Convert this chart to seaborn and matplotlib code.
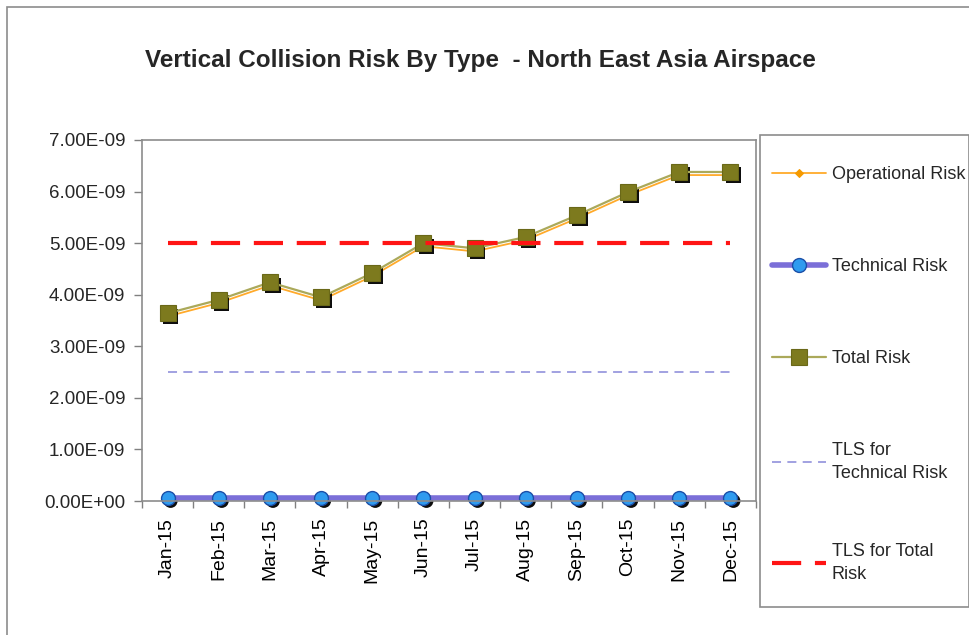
import numpy as np
import pandas as pd
import matplotlib
matplotlib.use("Agg")
import matplotlib.pyplot as plt
import matplotlib.patheffects as pe
from matplotlib.patches import Rectangle
from matplotlib.ticker import FuncFormatter, FixedLocator
import seaborn as sns

# data
months = ['Jan-15', 'Feb-15', 'Mar-15', 'Apr-15', 'May-15', 'Jun-15',
          'Jul-15', 'Aug-15', 'Sep-15', 'Oct-15', 'Nov-15', 'Dec-15']
operational_risk = [3.58e-9, 3.84e-9, 4.18e-9, 3.89e-9, 4.36e-9, 4.94e-9,
                    4.84e-9, 5.06e-9, 5.48e-9, 5.93e-9, 6.32e-9, 6.32e-9]
technical_risk = [0.06e-9, 0.06e-9, 0.06e-9, 0.06e-9, 0.06e-9, 0.06e-9,
                  0.06e-9, 0.06e-9, 0.06e-9, 0.06e-9, 0.06e-9, 0.06e-9]
total_risk = [3.64e-9, 3.90e-9, 4.24e-9, 3.95e-9, 4.42e-9, 5.00e-9,
              4.90e-9, 5.12e-9, 5.54e-9, 5.99e-9, 6.38e-9, 6.38e-9]
tls_technical = [2.5e-9] * 12
tls_total = [5.0e-9] * 12

df = pd.DataFrame({'month': months, 'operational': operational_risk,
                   'technical': technical_risk, 'total': total_risk,
                   'tls_tech': tls_technical, 'tls_total': tls_total})

sns.set_style("white")
plt.rcParams['font.family'] = ['Liberation Sans', 'DejaVu Sans']

fig = plt.figure(figsize=(9.69, 6.35), dpi=100)
ax = fig.add_axes([142/969, 1 - 501/635, 614/969, 361/635])

# excel style drop shadow under the markers (only the shadow is drawn here)
shadow = [pe.SimplePatchShadow(offset=(2.2, -2.2), shadow_rgbFace='black', alpha=0.95)]

# operational risk
sns.lineplot(data=df, x='month', y='operational', sort=False, ax=ax, color='#FFAA2A',
             lw=1.3, marker='D', markersize=4, markerfacecolor='#F59A00',
             markeredgecolor='#F59A00', label='Operational Risk')
# technical risk
sns.lineplot(data=df, x='month', y='technical', sort=False, ax=ax, linestyle='',
             marker='o', markersize=10, markerfacecolor='black', markeredgecolor='black',
             path_effects=shadow, clip_on=False, zorder=2.1)
sns.lineplot(data=df, x='month', y='technical', sort=False, ax=ax, color='#7B6FD8',
             lw=4, marker='o', markersize=10, markerfacecolor='#2F9BEF', markeredgecolor='#1B4FA8',
             markeredgewidth=1, clip_on=False, zorder=2.2, label='Technical Risk')
# total risk
sns.lineplot(data=df, x='month', y='total', sort=False, ax=ax, linestyle='',
             marker='s', markersize=11, markerfacecolor='black', markeredgecolor='black',
             path_effects=shadow, zorder=2.3)
sns.lineplot(data=df, x='month', y='total', sort=False, ax=ax, color='#ABA95A',
             lw=1.6, marker='s', markersize=11, markerfacecolor='#7D7A1E', markeredgecolor='#6A6818',
             markeredgewidth=0.8, zorder=2.4, label='Total Risk')
# target levels of safety
sns.lineplot(data=df, x='month', y='tls_tech', sort=False, ax=ax, color='#9A9ADE',
             lw=1.3, linestyle=(0, (5, 3.5)), zorder=2.5, label='TLS for\nTechnical Risk')
sns.lineplot(data=df, x='month', y='tls_total', sort=False, ax=ax, color='#FF1414',
             lw=3, linestyle=(0, (7, 3.3)), zorder=2.6, label='TLS for Total\nRisk')

ax.set_xlim(-0.5, 11.5)
ax.set_ylim(0, 7e-9)
ax.set_yticks(np.arange(0, 7.01e-9, 1e-9))
ax.yaxis.set_major_formatter(FuncFormatter(lambda v, p: f"{v:.2E}"))
ax.xaxis.set_minor_locator(FixedLocator(np.arange(-0.5, 12, 1)))
ax.tick_params(axis='x', which='major', length=0, rotation=90, labelsize=14, pad=12, colors='black')
ax.tick_params(axis='x', which='minor', length=5, width=1, color='#808080', direction='out', bottom=True)
ax.tick_params(axis='y', length=6, width=1, color='#808080', direction='out', left=True,
               labelsize=13.5, pad=6)
ax.set_xlabel('')
ax.set_ylabel('')
for s in ax.spines.values():
    s.set_color('#8C8C8C')
    s.set_linewidth(1.2)

handles, labels = ax.get_legend_handles_labels()
if ax.get_legend() is not None:
    ax.get_legend().remove()

# legend box like the Excel one
fig.patches.append(Rectangle((760/969, 1 - 607/635), 209/969, 472/635, transform=fig.transFigure,
                             facecolor='white', edgecolor='#8C8C8C', lw=1.2))
leg_kw = dict(loc='upper left', frameon=False, fontsize=13, labelspacing=4.15, handlelength=3.0,
              handletextpad=0.3, borderaxespad=0)
leg = fig.legend(handles[:4], labels[:4], bbox_to_anchor=(765/969, 1 - 159/635), **leg_kw)
leg2 = fig.legend(handles[4:], labels[4:], bbox_to_anchor=(765/969, 1 - 536/635), **leg_kw)
for t in leg.get_texts() + leg2.get_texts():
    t.set_linespacing(1.45)

fig.text(480/969, 1 - 60/635, 'Vertical Collision Risk By Type  - North East Asia Airspace',
         ha='center', va='center', fontsize=17.5, fontweight='bold')

# outer chart border
fig.patches.append(Rectangle((7/969, -0.1), 1.2, 1 - 7/635 + 0.1, transform=fig.transFigure,
                             facecolor='none', edgecolor='#8C8C8C', lw=1.2))

fig.savefig('out.png', dpi=100)
